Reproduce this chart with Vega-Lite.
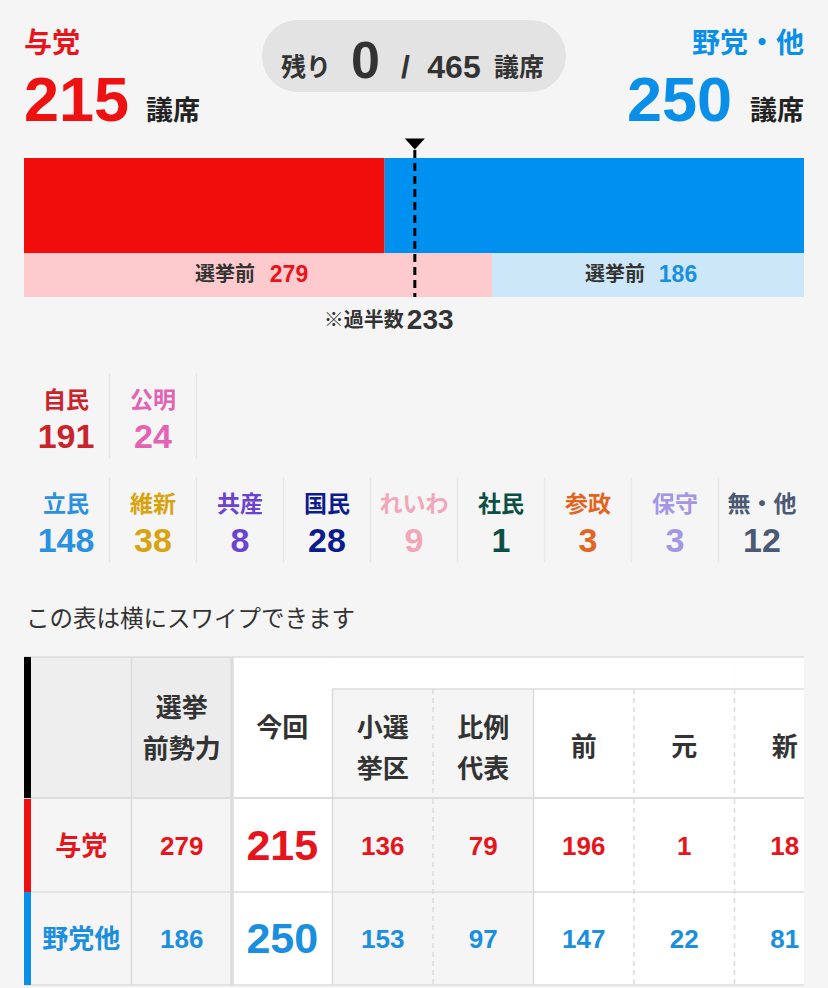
{
"$schema":"https://vega.github.io/schema/vega-lite/v6.json",
"width":780,"height":988,
"autosize":{"type":"none"},
"padding":{"left":24,"right":24,"top":0,"bottom":0},
"background":"#f5f5f5",
"config":{"view":{"stroke":null},"axis":{"disable":true},"legend":{"disable":true},"text":{"font":"Liberation Sans, Noto Sans CJK JP","fontWeight":"bold","baseline":"middle"},"tick":{"opacity":1}},
"resolve":{"scale":{"x":"independent","y":"independent","color":"independent","strokeDash":"independent","strokeWidth":"independent"}},
"datasets":{
"summary":[{"remaining":0,"total":465,"majority":233}],
"blocs":[{"bloc":"与党","label":"与党","seats":215,"before":279,"smd":136,"pr":79,"incumbent":196,"former":1,"new":18},{"bloc":"野党・他","label":"野党他","seats":250,"before":186,"smd":153,"pr":97,"incumbent":147,"former":22,"new":81}],
"parties":[{"party":"自民","bloc":"与党","seats":191},{"party":"公明","bloc":"与党","seats":24},{"party":"立民","bloc":"野党・他","seats":148},{"party":"維新","bloc":"野党・他","seats":38},{"party":"共産","bloc":"野党・他","seats":8},{"party":"国民","bloc":"野党・他","seats":28},{"party":"れいわ","bloc":"野党・他","seats":9},{"party":"社民","bloc":"野党・他","seats":1},{"party":"参政","bloc":"野党・他","seats":3},{"party":"保守","bloc":"野党・他","seats":3},{"party":"無・他","bloc":"野党・他","seats":12}],
"columns":[{"col":"label","title":""},{"col":"before","title":"選挙\n前勢力"},{"col":"seats","title":"今回"},{"col":"smd","title":"小選\n挙区"},{"col":"pr","title":"比例\n代表"},{"col":"incumbent","title":"前"},{"col":"former","title":"元"},{"col":"new","title":"新"}]
},
"data":{"name":"summary"},
"layer":[
{"mark":{"type":"point","shape":"M-0.7632,-0.2368L0.7632,-0.2368A0.2368,0.2368,0,0,1,0.7632,0.2368L-0.7632,0.2368A0.2368,0.2368,0,0,1,-0.7632,-0.2368Z","size":92416,"filled":true,"color":"#e3e3e3","opacity":1,"strokeWidth":0,"yOffset":11},
 "encoding":{"x":{"datum":"残り","type":"nominal","scale":{"type":"point","domain":["与党","残り","野党・他"],"range":[0,780],"padding":0}},"y":{"datum":"name","type":"nominal","scale":{"type":"point","domain":["name","seats"],"range":[45,102],"padding":0}}}},
{"mark":{"type":"text","text":"残り","fontSize":25,"dx":-108,"yOffset":31,"baseline":"alphabetic","color":"#333333"},
 "encoding":{"x":{"datum":"残り","type":"nominal","scale":{"type":"point","domain":["与党","残り","野党・他"],"range":[0,780],"padding":0}},"y":{"datum":"name","type":"nominal","scale":{"type":"point","domain":["name","seats"],"range":[45,102],"padding":0}}}},
{"mark":{"type":"text","fontSize":52,"dx":-48.5,"yOffset":33,"baseline":"alphabetic","color":"#333333"},
 "encoding":{"text":{"field":"remaining","type":"nominal"},"x":{"datum":"残り","type":"nominal","scale":{"type":"point","domain":["与党","残り","野党・他"],"range":[0,780],"padding":0}},"y":{"datum":"name","type":"nominal","scale":{"type":"point","domain":["name","seats"],"range":[45,102],"padding":0}}}},
{"mark":{"type":"text","text":"/","fontSize":32,"dx":-8.5,"yOffset":33,"baseline":"alphabetic","color":"#333333"},
 "encoding":{"x":{"datum":"残り","type":"nominal","scale":{"type":"point","domain":["与党","残り","野党・他"],"range":[0,780],"padding":0}},"y":{"datum":"name","type":"nominal","scale":{"type":"point","domain":["name","seats"],"range":[45,102],"padding":0}}}},
{"mark":{"type":"text","fontSize":32,"dx":40,"yOffset":33,"baseline":"alphabetic","color":"#333333"},
 "encoding":{"text":{"field":"total","type":"nominal"},"x":{"datum":"残り","type":"nominal","scale":{"type":"point","domain":["与党","残り","野党・他"],"range":[0,780],"padding":0}},"y":{"datum":"name","type":"nominal","scale":{"type":"point","domain":["name","seats"],"range":[45,102],"padding":0}}}},
{"mark":{"type":"text","text":"議席","fontSize":25,"dx":105,"yOffset":31,"baseline":"alphabetic","color":"#333333"},
 "encoding":{"x":{"datum":"残り","type":"nominal","scale":{"type":"point","domain":["与党","残り","野党・他"],"range":[0,780],"padding":0}},"y":{"datum":"name","type":"nominal","scale":{"type":"point","domain":["name","seats"],"range":[45,102],"padding":0}}}},

{"data":{"name":"blocs"},"transform":[{"filter":"datum.bloc === '与党'"}],"mark":{"type":"text","align":"left","fontSize":28},
 "encoding":{"x":{"field":"bloc","type":"nominal","scale":{"type":"point","domain":["与党","残り","野党・他"],"range":[0,780],"padding":0}},"y":{"datum":"name","type":"nominal","scale":{"type":"point","domain":["name","seats"],"range":[45,102],"padding":0}},"text":{"field":"bloc","type":"nominal"},"color":{"field":"bloc","type":"nominal","scale":{"domain":["与党","野党・他"],"range":["#e8141b","#0a8fe8"]}}}},
{"data":{"name":"blocs"},"transform":[{"filter":"datum.bloc === '与党'"}],"mark":{"type":"text","align":"left","fontSize":63},
 "encoding":{"x":{"field":"bloc","type":"nominal","scale":{"type":"point","domain":["与党","残り","野党・他"],"range":[0,780],"padding":0}},"y":{"datum":"seats","type":"nominal","scale":{"type":"point","domain":["name","seats"],"range":[45,102],"padding":0}},"text":{"field":"seats","type":"nominal"},"color":{"field":"bloc","type":"nominal","scale":{"domain":["与党","野党・他"],"range":["#ee1111","#0a8fe8"]}}}},
{"data":{"name":"blocs"},"transform":[{"filter":"datum.bloc === '与党'"}],"mark":{"type":"text","text":"議席","align":"left","fontSize":27,"dx":122,"yOffset":10,"color":"#222222"},
 "encoding":{"x":{"field":"bloc","type":"nominal","scale":{"type":"point","domain":["与党","残り","野党・他"],"range":[0,780],"padding":0}},"y":{"datum":"seats","type":"nominal","scale":{"type":"point","domain":["name","seats"],"range":[45,102],"padding":0}}}},
{"data":{"name":"blocs"},"transform":[{"filter":"datum.bloc !== '与党'"}],"mark":{"type":"text","align":"right","fontSize":28},
 "encoding":{"x":{"field":"bloc","type":"nominal","scale":{"type":"point","domain":["与党","残り","野党・他"],"range":[0,780],"padding":0}},"y":{"datum":"name","type":"nominal","scale":{"type":"point","domain":["name","seats"],"range":[45,102],"padding":0}},"text":{"field":"bloc","type":"nominal"},"color":{"field":"bloc","type":"nominal","scale":{"domain":["与党","野党・他"],"range":["#e8141b","#0a8fe8"]}}}},
{"data":{"name":"blocs"},"transform":[{"filter":"datum.bloc !== '与党'"}],"mark":{"type":"text","align":"right","fontSize":63,"dx":-72},
 "encoding":{"x":{"field":"bloc","type":"nominal","scale":{"type":"point","domain":["与党","残り","野党・他"],"range":[0,780],"padding":0}},"y":{"datum":"seats","type":"nominal","scale":{"type":"point","domain":["name","seats"],"range":[45,102],"padding":0}},"text":{"field":"seats","type":"nominal"},"color":{"field":"bloc","type":"nominal","scale":{"domain":["与党","野党・他"],"range":["#ee1111","#0a8fe8"]}}}},
{"data":{"name":"blocs"},"transform":[{"filter":"datum.bloc !== '与党'"}],"mark":{"type":"text","text":"議席","align":"right","fontSize":27,"yOffset":10,"color":"#222222"},
 "encoding":{"x":{"field":"bloc","type":"nominal","scale":{"type":"point","domain":["与党","残り","野党・他"],"range":[0,780],"padding":0}},"y":{"datum":"seats","type":"nominal","scale":{"type":"point","domain":["name","seats"],"range":[45,102],"padding":0}}}},

{"data":{"name":"blocs"},"mark":{"type":"bar"},
 "encoding":{"x":{"field":"seats","type":"quantitative","stack":"zero","scale":{"domain":[0,465],"range":[0,780],"nice":false,"zero":true}},"y":{"datum":"now","type":"nominal","scale":{"type":"band","domain":["now"],"range":[158,253],"paddingInner":0,"paddingOuter":0}},"color":{"field":"bloc","type":"nominal","scale":{"domain":["与党","野党・他"],"range":["#f20d0d","#0090f0"]}},"order":{"field":"bloc","type":"nominal","sort":"ascending"}}},
{"data":{"name":"blocs"},"mark":{"type":"bar"},
 "encoding":{"x":{"field":"before","type":"quantitative","stack":"zero","scale":{"domain":[0,465],"range":[0,780],"nice":false,"zero":true}},"y":{"datum":"before","type":"nominal","scale":{"type":"band","domain":["before"],"range":[253,297],"paddingInner":0,"paddingOuter":0}},"color":{"field":"bloc","type":"nominal","scale":{"domain":["与党","野党・他"],"range":["#fdcacd","#cce8f8"]}},"order":{"field":"bloc","type":"nominal","sort":"ascending"}}},

{"data":{"name":"blocs"},"transform":[{"filter":"datum.bloc === '与党'"}],"mark":{"type":"text","text":"選挙前","fontSize":20,"dx":-33,"color":"#333333"},
 "encoding":{"x":{"field":"before","type":"quantitative","scale":{"domain":[0,465],"range":[0,390],"nice":false,"zero":true}},"y":{"datum":"before","type":"nominal","scale":{"type":"band","domain":["before"],"range":[253,297],"paddingInner":0,"paddingOuter":0}}}},
{"data":{"name":"blocs"},"transform":[{"filter":"datum.bloc === '与党'"}],"mark":{"type":"text","fontSize":23,"dx":31},
 "encoding":{"x":{"field":"before","type":"quantitative","scale":{"domain":[0,465],"range":[0,390],"nice":false,"zero":true}},"y":{"datum":"before","type":"nominal","scale":{"type":"band","domain":["before"],"range":[253,297],"paddingInner":0,"paddingOuter":0}},"text":{"field":"before","type":"nominal"},"color":{"field":"bloc","type":"nominal","scale":{"domain":["与党","野党・他"],"range":["#e8141b","#1a8fe0"]}}}},
{"data":{"name":"blocs"},"transform":[{"filter":"datum.bloc !== '与党'"}],"mark":{"type":"text","text":"選挙前","fontSize":20,"dx":-33,"color":"#333333"},
 "encoding":{"x":{"field":"before","type":"quantitative","scale":{"domain":[0,465],"range":[780,390],"nice":false,"zero":true}},"y":{"datum":"before","type":"nominal","scale":{"type":"band","domain":["before"],"range":[253,297],"paddingInner":0,"paddingOuter":0}}}},
{"data":{"name":"blocs"},"transform":[{"filter":"datum.bloc !== '与党'"}],"mark":{"type":"text","fontSize":23,"dx":30},
 "encoding":{"x":{"field":"before","type":"quantitative","scale":{"domain":[0,465],"range":[780,390],"nice":false,"zero":true}},"y":{"datum":"before","type":"nominal","scale":{"type":"band","domain":["before"],"range":[253,297],"paddingInner":0,"paddingOuter":0}},"text":{"field":"before","type":"nominal"},"color":{"field":"bloc","type":"nominal","scale":{"domain":["与党","野党・他"],"range":["#e8141b","#1a8fe0"]}}}},

{"mark":{"type":"rule","color":"#000000","strokeWidth":3,"strokeDash":[8,5]},
 "encoding":{"x":{"field":"majority","type":"quantitative","scale":{"domain":[0,465],"range":[0,780],"nice":false,"zero":true}},"y":{"datum":"top","type":"nominal","scale":{"type":"point","domain":["top","bottom"],"range":[150,297],"padding":0}},"y2":{"datum":"bottom"}}},
{"mark":{"type":"point","shape":"M-1,-0.55L1,-0.55L0,0.55Z","size":400,"filled":true,"color":"#000000","opacity":1,"strokeWidth":0,"yOffset":-6},
 "encoding":{"x":{"field":"majority","type":"quantitative","scale":{"domain":[0,465],"range":[0,780],"nice":false,"zero":true}},"y":{"datum":"top","type":"nominal","scale":{"type":"point","domain":["top","bottom"],"range":[150,297],"padding":0}}}},
{"mark":{"type":"text","text":"※過半数","align":"right","fontSize":20,"dx":-11,"yOffset":24,"color":"#333333"},
 "encoding":{"x":{"field":"majority","type":"quantitative","scale":{"domain":[0,465],"range":[0,780],"nice":false,"zero":true}},"y":{"datum":"bottom","type":"nominal","scale":{"type":"point","domain":["top","bottom"],"range":[150,297],"padding":0}}}},
{"mark":{"type":"text","align":"left","fontSize":28,"dx":-8,"yOffset":24,"color":"#333333"},
 "encoding":{"text":{"field":"majority","type":"nominal"},"x":{"field":"majority","type":"quantitative","scale":{"domain":[0,465],"range":[0,780],"nice":false,"zero":true}},"y":{"datum":"bottom","type":"nominal","scale":{"type":"point","domain":["top","bottom"],"range":[150,297],"padding":0}}}},

{"data":{"name":"parties"},"transform":[{"filter":"datum.bloc === '与党'"}],"mark":{"type":"text","fontSize":23,"yOffset":-15},
 "encoding":{"x":{"field":"party","type":"nominal","scale":{"type":"point","domain":["自民","公明"],"range":[42,129],"padding":0}},"y":{"field":"bloc","type":"nominal","scale":{"type":"point","domain":["与党","野党・他"],"range":[416,520],"padding":0}},"text":{"field":"party","type":"nominal"},"color":{"field":"party","type":"nominal","scale":{"domain":["自民","公明","立民","維新","共産","国民","れいわ","社民","参政","保守","無・他"],"range":["#c9242b","#e362b4","#2a90e0","#d9a30e","#6b43d3","#0c1b8e","#f2a7b8","#0b4f45","#e2651f","#a496e4","#4b5a72"]}}}},
{"data":{"name":"parties"},"transform":[{"filter":"datum.bloc === '与党'"}],"mark":{"type":"text","fontSize":34,"yOffset":22},
 "encoding":{"x":{"field":"party","type":"nominal","scale":{"type":"point","domain":["自民","公明"],"range":[42,129],"padding":0}},"y":{"field":"bloc","type":"nominal","scale":{"type":"point","domain":["与党","野党・他"],"range":[416,520],"padding":0}},"text":{"field":"seats","type":"nominal"},"color":{"field":"party","type":"nominal","scale":{"domain":["自民","公明","立民","維新","共産","国民","れいわ","社民","参政","保守","無・他"],"range":["#c9242b","#e362b4","#2a90e0","#d9a30e","#6b43d3","#0c1b8e","#f2a7b8","#0b4f45","#e2651f","#a496e4","#4b5a72"]}}}},
{"data":{"name":"parties"},"transform":[{"filter":"datum.bloc === '与党'"}],"mark":{"type":"tick","orient":"vertical","size":85,"thickness":1.5,"xOffset":43.5,"color":"#e6e6e6","opacity":1},
 "encoding":{"x":{"field":"party","type":"nominal","scale":{"type":"point","domain":["自民","公明"],"range":[42,129],"padding":0}},"y":{"field":"bloc","type":"nominal","scale":{"type":"point","domain":["与党","野党・他"],"range":[416,520],"padding":0}}}},
{"data":{"name":"parties"},"transform":[{"filter":"datum.bloc !== '与党'"}],"mark":{"type":"text","fontSize":23,"yOffset":-15},
 "encoding":{"x":{"field":"party","type":"nominal","scale":{"type":"point","domain":["立民","維新","共産","国民","れいわ","社民","参政","保守","無・他"],"range":[42,738],"padding":0}},"y":{"field":"bloc","type":"nominal","scale":{"type":"point","domain":["与党","野党・他"],"range":[416,520],"padding":0}},"text":{"field":"party","type":"nominal"},"color":{"field":"party","type":"nominal","scale":{"domain":["自民","公明","立民","維新","共産","国民","れいわ","社民","参政","保守","無・他"],"range":["#c9242b","#e362b4","#2a90e0","#d9a30e","#6b43d3","#0c1b8e","#f2a7b8","#0b4f45","#e2651f","#a496e4","#4b5a72"]}}}},
{"data":{"name":"parties"},"transform":[{"filter":"datum.bloc !== '与党'"}],"mark":{"type":"text","fontSize":34,"yOffset":22},
 "encoding":{"x":{"field":"party","type":"nominal","scale":{"type":"point","domain":["立民","維新","共産","国民","れいわ","社民","参政","保守","無・他"],"range":[42,738],"padding":0}},"y":{"field":"bloc","type":"nominal","scale":{"type":"point","domain":["与党","野党・他"],"range":[416,520],"padding":0}},"text":{"field":"seats","type":"nominal"},"color":{"field":"party","type":"nominal","scale":{"domain":["自民","公明","立民","維新","共産","国民","れいわ","社民","参政","保守","無・他"],"range":["#c9242b","#e362b4","#2a90e0","#d9a30e","#6b43d3","#0c1b8e","#f2a7b8","#0b4f45","#e2651f","#a496e4","#4b5a72"]}}}},
{"data":{"name":"parties"},"transform":[{"filter":"datum.bloc !== '与党' && datum.party !== '無・他'"}],"mark":{"type":"tick","orient":"vertical","size":85,"thickness":1.5,"xOffset":43.5,"color":"#e6e6e6","opacity":1},
 "encoding":{"x":{"field":"party","type":"nominal","scale":{"type":"point","domain":["立民","維新","共産","国民","れいわ","社民","参政","保守","無・他"],"range":[42,738],"padding":0}},"y":{"field":"bloc","type":"nominal","scale":{"type":"point","domain":["与党","野党・他"],"range":[416,520],"padding":0}}}},

{"data":{"name":"columns"},"transform":[{"filter":"datum.col === 'label'"}],"mark":{"type":"text","text":"この表は横にスワイプできます","align":"left","fontSize":23.5,"fontWeight":"normal","dx":-5,"yOffset":-37,"color":"#333333","font":"Noto Sans CJK JP"},
 "encoding":{"x":{"field":"col","type":"nominal","bandPosition":0,"scale":{"type":"band","domain":["label","before","seats","smd","pr","incumbent","former","new"],"range":[7,811],"paddingInner":0,"paddingOuter":0}},"y":{"datum":"top","type":"nominal","scale":{"type":"point","domain":["top","bottom"],"range":[657,798],"padding":0}}}},

{"data":{"name":"columns"},"mark":{"type":"rect","clip":true},
 "encoding":{"x":{"field":"col","type":"nominal","scale":{"type":"band","domain":["label","before","seats","smd","pr","incumbent","former","new"],"range":[7,811],"paddingInner":0,"paddingOuter":0}},"y":{"datum":"header","type":"nominal","scale":{"type":"band","domain":["header"],"range":[657,798],"paddingInner":0,"paddingOuter":0}},"color":{"field":"col","type":"nominal","scale":{"domain":["label","before","seats","smd","pr","incumbent","former","new"],"range":["#eeeeee","#ececec","#ffffff","#ffffff","#ffffff","#ffffff","#ffffff","#ffffff"]}}}},
{"data":{"name":"columns"},"transform":[{"filter":"datum.col === 'smd' || datum.col === 'pr'"}],"mark":{"type":"rect","color":"#f5f5f5"},
 "encoding":{"x":{"field":"col","type":"nominal","scale":{"type":"band","domain":["label","before","seats","smd","pr","incumbent","former","new"],"range":[7,811],"paddingInner":0,"paddingOuter":0}},"y":{"datum":"sub","type":"nominal","scale":{"type":"band","domain":["sub"],"range":[689,798],"paddingInner":0,"paddingOuter":0}}}},
{"data":{"name":"blocs"},"transform":[{"fold":["label","before","seats","smd","pr","incumbent","former","new"],"as":["col","val"]}],"mark":{"type":"rect","clip":true},
 "encoding":{"x":{"field":"col","type":"nominal","scale":{"type":"band","domain":["label","before","seats","smd","pr","incumbent","former","new"],"range":[7,811],"paddingInner":0,"paddingOuter":0}},"y":{"field":"bloc","type":"nominal","scale":{"type":"band","domain":["与党","野党・他"],"range":[799,985],"paddingInner":0,"paddingOuter":0}},"color":{"field":"col","type":"nominal","scale":{"domain":["label","before","seats","smd","pr","incumbent","former","new"],"range":["#f5f5f5","#f5f5f5","#ffffff","#f5f5f5","#f5f5f5","#ffffff","#ffffff","#ffffff"]}}}},

{"mark":{"type":"rule","color":"#dddddd","strokeWidth":1.5},
 "encoding":{"y":{"datum":"top","type":"nominal","scale":{"type":"point","domain":["top","bottom"],"range":[657,798],"padding":0}}}},
{"mark":{"type":"rule","color":"#dddddd","strokeWidth":2},
 "encoding":{"y":{"datum":"bottom","type":"nominal","scale":{"type":"point","domain":["top","bottom"],"range":[657,798],"padding":0}}}},
{"data":{"name":"blocs"},"mark":{"type":"rule","color":"#dddddd","strokeWidth":1.5},
 "encoding":{"y":{"field":"bloc","type":"nominal","bandPosition":1,"scale":{"type":"band","domain":["与党","野党・他"],"range":[799,985],"paddingInner":0,"paddingOuter":0}}}},
{"data":{"name":"columns"},"transform":[{"filter":"indexof(['smd','pr','incumbent','former','new'], datum.col) >= 0"}],"mark":{"type":"tick","orient":"horizontal","size":101,"thickness":1.5,"color":"#dddddd","opacity":1,"clip":true},
 "encoding":{"x":{"field":"col","type":"nominal","scale":{"type":"band","domain":["label","before","seats","smd","pr","incumbent","former","new"],"range":[7,811],"paddingInner":0,"paddingOuter":0}},"y":{"datum":"sub","type":"nominal","scale":{"type":"point","domain":["sub","bottom"],"range":[689,798],"padding":0}}}},

{"data":{"name":"columns"},"transform":[{"filter":"datum.col !== 'label'"}],"mark":{"type":"rule","color":"#dcdcdc","clip":true},
 "encoding":{"x":{"field":"col","type":"nominal","bandPosition":0,"scale":{"type":"band","domain":["label","before","seats","smd","pr","incumbent","former","new"],"range":[7,811],"paddingInner":0,"paddingOuter":0}},"y":{"datum":"top","type":"nominal","scale":{"type":"point","domain":["top","bottom"],"range":[799,985],"padding":0}},"y2":{"datum":"bottom"},"strokeDash":{"field":"col","type":"nominal","scale":{"type":"ordinal","domain":["label","before","seats","smd","pr","incumbent","former","new"],"range":[[1,0],[1,0],[1,0],[1,0],[5,4],[1,0],[5,4],[5,4]]}},"strokeWidth":{"field":"col","type":"nominal","scale":{"type":"ordinal","domain":["label","before","seats","smd","pr","incumbent","former","new"],"range":[1.5,1.5,3.5,1.5,1.5,1.5,1.5,1.5]}}}},
{"data":{"name":"columns"},"transform":[{"filter":"datum.col === 'before' || datum.col === 'seats'"}],"mark":{"type":"rule","color":"#dcdcdc","clip":true},
 "encoding":{"x":{"field":"col","type":"nominal","bandPosition":0,"scale":{"type":"band","domain":["label","before","seats","smd","pr","incumbent","former","new"],"range":[7,811],"paddingInner":0,"paddingOuter":0}},"y":{"datum":"top","type":"nominal","scale":{"type":"point","domain":["top","bottom"],"range":[657,798],"padding":0}},"y2":{"datum":"bottom"},"strokeWidth":{"field":"col","type":"nominal","scale":{"type":"ordinal","domain":["label","before","seats","smd","pr","incumbent","former","new"],"range":[1.5,1.5,3.5,1.5,1.5,1.5,1.5,1.5]}}}},
{"data":{"name":"columns"},"transform":[{"filter":"indexof(['smd','pr','incumbent','former','new'], datum.col) >= 0"}],"mark":{"type":"rule","color":"#dcdcdc","clip":true},
 "encoding":{"x":{"field":"col","type":"nominal","bandPosition":0,"scale":{"type":"band","domain":["label","before","seats","smd","pr","incumbent","former","new"],"range":[7,811],"paddingInner":0,"paddingOuter":0}},"y":{"datum":"sub","type":"nominal","scale":{"type":"point","domain":["sub","bottom"],"range":[689,798],"padding":0}},"y2":{"datum":"bottom"},"strokeDash":{"field":"col","type":"nominal","scale":{"type":"ordinal","domain":["label","before","seats","smd","pr","incumbent","former","new"],"range":[[1,0],[1,0],[1,0],[1,0],[5,4],[1,0],[5,4],[5,4]]}},"strokeWidth":{"field":"col","type":"nominal","scale":{"type":"ordinal","domain":["label","before","seats","smd","pr","incumbent","former","new"],"range":[1.5,1.5,3.5,1.5,1.5,1.5,1.5,1.5]}}}},

{"data":{"name":"columns"},"transform":[{"filter":"datum.col === 'label'"}],"mark":{"type":"tick","orient":"vertical","size":141,"thickness":7,"xOffset":-3.5,"color":"#000000","opacity":1},
 "encoding":{"x":{"field":"col","type":"nominal","bandPosition":0,"scale":{"type":"band","domain":["label","before","seats","smd","pr","incumbent","former","new"],"range":[7,811],"paddingInner":0,"paddingOuter":0}},"y":{"datum":"header","type":"nominal","scale":{"type":"band","domain":["header"],"range":[657,798],"paddingInner":0,"paddingOuter":0}}}},
{"data":{"name":"blocs"},"transform":[{"fold":["label"],"as":["col","val"]}],"mark":{"type":"tick","orient":"vertical","size":93,"thickness":7,"xOffset":-3.5,"opacity":1},
 "encoding":{"x":{"field":"col","type":"nominal","bandPosition":0,"scale":{"type":"band","domain":["label","before","seats","smd","pr","incumbent","former","new"],"range":[7,811],"paddingInner":0,"paddingOuter":0}},"y":{"field":"bloc","type":"nominal","scale":{"type":"band","domain":["与党","野党・他"],"range":[799,985],"paddingInner":0,"paddingOuter":0}},"color":{"field":"bloc","type":"nominal","scale":{"domain":["与党","野党・他"],"range":["#ee1111","#0a8fe8"]}}}},

{"data":{"name":"columns"},"transform":[{"filter":"datum.col === 'before'"}],"mark":{"type":"text","fontSize":26,"lineBreak":"\n","lineHeight":41,"yOffset":-19,"color":"#333333"},
 "encoding":{"x":{"field":"col","type":"nominal","scale":{"type":"band","domain":["label","before","seats","smd","pr","incumbent","former","new"],"range":[7,811],"paddingInner":0,"paddingOuter":0}},"y":{"datum":"header","type":"nominal","scale":{"type":"band","domain":["header"],"range":[657,798],"paddingInner":0,"paddingOuter":0}},"text":{"field":"title","type":"nominal"}}},
{"data":{"name":"columns"},"transform":[{"filter":"datum.col === 'seats'"}],"mark":{"type":"text","fontSize":26,"yOffset":1,"color":"#333333"},
 "encoding":{"x":{"field":"col","type":"nominal","scale":{"type":"band","domain":["label","before","seats","smd","pr","incumbent","former","new"],"range":[7,811],"paddingInner":0,"paddingOuter":0}},"y":{"datum":"header","type":"nominal","scale":{"type":"band","domain":["header"],"range":[657,798],"paddingInner":0,"paddingOuter":0}},"text":{"field":"title","type":"nominal"}}},
{"data":{"name":"columns"},"transform":[{"filter":"datum.col === 'smd' || datum.col === 'pr'"}],"mark":{"type":"text","fontSize":26,"lineBreak":"\n","lineHeight":41,"yOffset":-15,"color":"#333333"},
 "encoding":{"x":{"field":"col","type":"nominal","scale":{"type":"band","domain":["label","before","seats","smd","pr","incumbent","former","new"],"range":[7,811],"paddingInner":0,"paddingOuter":0}},"y":{"datum":"sub","type":"nominal","scale":{"type":"band","domain":["sub"],"range":[689,798],"paddingInner":0,"paddingOuter":0}},"text":{"field":"title","type":"nominal"}}},
{"data":{"name":"columns"},"transform":[{"filter":"indexof(['incumbent','former','new'], datum.col) >= 0"}],"mark":{"type":"text","fontSize":26,"yOffset":4,"color":"#333333","clip":true},
 "encoding":{"x":{"field":"col","type":"nominal","scale":{"type":"band","domain":["label","before","seats","smd","pr","incumbent","former","new"],"range":[7,811],"paddingInner":0,"paddingOuter":0}},"y":{"datum":"sub","type":"nominal","scale":{"type":"band","domain":["sub"],"range":[689,798],"paddingInner":0,"paddingOuter":0}},"text":{"field":"title","type":"nominal"}}},
{"data":{"name":"blocs"},"transform":[{"fold":["label","before","seats","smd","pr","incumbent","former","new"],"as":["col","val"]},{"filter":"datum.col !== 'seats'"}],"mark":{"type":"text","fontSize":26,"yOffset":1,"clip":true},
 "encoding":{"x":{"field":"col","type":"nominal","scale":{"type":"band","domain":["label","before","seats","smd","pr","incumbent","former","new"],"range":[7,811],"paddingInner":0,"paddingOuter":0}},"y":{"field":"bloc","type":"nominal","scale":{"type":"band","domain":["与党","野党・他"],"range":[799,985],"paddingInner":0,"paddingOuter":0}},"text":{"field":"val","type":"nominal"},"color":{"field":"bloc","type":"nominal","scale":{"domain":["与党","野党・他"],"range":["#e8141b","#1a8fe0"]}}}},
{"data":{"name":"blocs"},"transform":[{"fold":["seats"],"as":["col","val"]}],"mark":{"type":"text","fontSize":43,"yOffset":1},
 "encoding":{"x":{"field":"col","type":"nominal","scale":{"type":"band","domain":["label","before","seats","smd","pr","incumbent","former","new"],"range":[7,811],"paddingInner":0,"paddingOuter":0}},"y":{"field":"bloc","type":"nominal","scale":{"type":"band","domain":["与党","野党・他"],"range":[799,985],"paddingInner":0,"paddingOuter":0}},"text":{"field":"val","type":"nominal"},"color":{"field":"bloc","type":"nominal","scale":{"domain":["与党","野党・他"],"range":["#e8141b","#1a8fe0"]}}}}
]
}
